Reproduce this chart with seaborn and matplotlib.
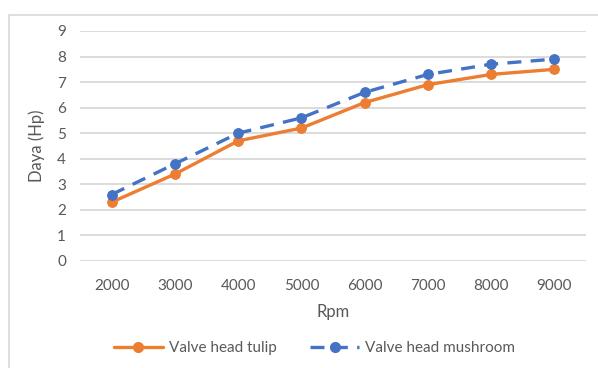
import matplotlib
matplotlib.use("Agg")
import matplotlib.pyplot as plt
import seaborn as sns
import pandas as pd
from matplotlib.patches import Rectangle
from matplotlib.lines import Line2D

rpm = ["2000", "3000", "4000", "5000", "6000", "7000", "8000", "9000"]
tulip = [2.3, 3.4, 4.7, 5.2, 6.2, 6.9, 7.3, 7.5]
mushroom = [2.6, 3.8, 5.0, 5.6, 6.6, 7.3, 7.7, 7.9]
series_names = ["Valve head tulip", "Valve head mushroom"]
y_ticks = list(range(0, 10))

sns.set_theme(style="white")
plt.rcParams["font.family"] = ["Lato", "DejaVu Sans"]

df = pd.DataFrame({
    "Rpm": rpm * 2,
    "Daya": tulip + mushroom,
    "Series": [series_names[0]] * len(rpm) + [series_names[1]] * len(rpm),
})

fig = plt.figure(figsize=(5.98, 3.68), dpi=100)
ax = fig.add_axes([0.1338, 0.2908, 0.8462, 0.625])

orange = "#ED7D31"
blue = "#4472C4"
text_c = "#595959"
grid_c = "#D9D9D9"

sns.lineplot(data=df[df.Series == series_names[0]], x="Rpm", y="Daya", ax=ax,
             color=orange, linewidth=2.4, marker="o", markersize=7,
             markeredgecolor=orange, sort=False, legend=False)
sns.lineplot(data=df[df.Series == series_names[1]], x="Rpm", y="Daya", ax=ax,
             color=blue, linewidth=2.4, marker="o", markersize=7,
             markeredgecolor=blue, sort=False, legend=False, dashes=False)
ax.lines[1].set_dashes([4.2, 2.8])

ax.set_xlim(-0.5, len(rpm) - 0.5)
ax.set_ylim(0, 9)
ax.set_yticks(y_ticks)
ax.grid(axis="y", color=grid_c, linewidth=1.3)
ax.set_axisbelow(True)
for s in ax.spines.values():
    s.set_visible(False)
ax.tick_params(axis="both", length=0, colors=text_c, labelsize=11)
ax.tick_params(axis="x", pad=13)
ax.tick_params(axis="y", pad=10)
ax.set_xlabel("Rpm", color=text_c, fontsize=12, labelpad=8)
ax.set_ylabel("Daya (Hp)", color=text_c, fontsize=12, labelpad=9)

handles = [
    Line2D([], [], color=orange, linewidth=2.4, marker="o", markersize=7),
    Line2D([], [], color=blue, linewidth=2.4, marker="o", markersize=7, dashes=[4.2, 2.8]),
]
leg = fig.legend(handles, series_names, loc="center", bbox_to_anchor=(0.526, 0.054),
                 ncol=2, frameon=False, fontsize=11, handlelength=3.2,
                 columnspacing=2.2, handletextpad=0.4)
for t in leg.get_texts():
    t.set_color(text_c)

fig.patches.append(Rectangle((9 / 598, -0.01), 1.0, 1 - 15 / 368 + 0.01,
                             transform=fig.transFigure, fill=False,
                             edgecolor=grid_c, linewidth=1.2))

fig.savefig("out.png", dpi=100)
